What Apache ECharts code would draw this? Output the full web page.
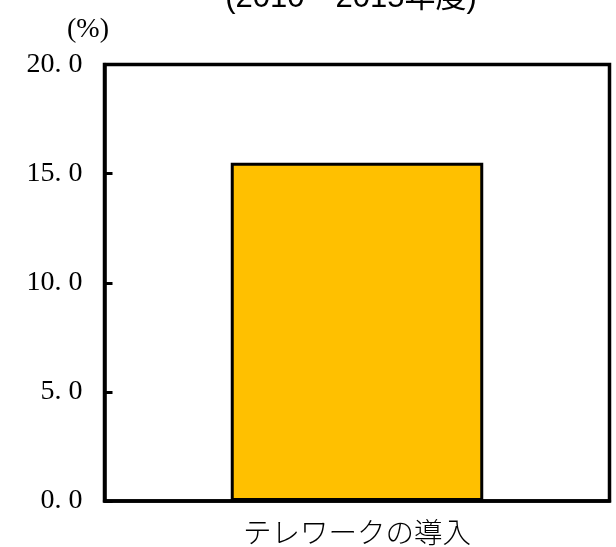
<!DOCTYPE html>
<html>
<head>
<meta charset="utf-8">
<script src="https://cdn.jsdelivr.net/npm/echarts@6/dist/echarts.min.js"></script>
<style>
  html, body { margin: 0; padding: 0; background: #fff; }
  #chart { width: 616px; height: 547px; }
</style>
</head>
<body>
<div id="chart"></div>
<script>
// Share of firms introducing telework, FY2010–2015
const categories = ['テレワークの導入'];
const rates = [15.5];
const yMin = 0, yMax = 20, yStep = 5;
const titleText = '(2010～2015年度)';
const unitText = '(%)';

const chart = echarts.init(document.getElementById('chart'), null, { renderer: 'canvas' });

chart.setOption({
  animation: false,
  backgroundColor: '#ffffff',
  grid: {
    left: 104.5, right: 6.5, top: 64.5, bottom: 46,
    show: true, borderColor: '#000', borderWidth: 3.5, backgroundColor: 'transparent'
  },
  graphic: [
    {
      type: 'text', x: 351, y: -2,
      style: {
        text: titleText,
        fontSize: 31, fontFamily: '"Liberation Sans", "Noto Sans CJK JP", sans-serif',
        fill: '#000', align: 'center', verticalAlign: 'middle'
      }
    },
    {
      type: 'text', x: 88, y: 30,
      style: {
        text: unitText,
        fontSize: 28, fontFamily: '"Liberation Serif", "DejaVu Serif", serif',
        fill: '#000', align: 'center', verticalAlign: 'middle'
      }
    }
  ],
  xAxis: {
    type: 'category',
    data: categories,
    axisLine: { show: true, lineStyle: { color: '#000', width: 3.5 } },
    axisTick: { show: false },
    axisLabel: {
      color: '#000', fontSize: 28.5, margin: 17,
      fontFamily: '"Noto Sans CJK JP", sans-serif', fontWeight: 300
    },
    splitLine: { show: false }
  },
  yAxis: {
    type: 'value',
    min: yMin, max: yMax, interval: yStep,
    axisLine: { show: true, lineStyle: { color: '#000', width: 3.5 } },
    axisTick: { show: true, inside: true, length: 8, lineStyle: { color: '#000', width: 3 } },
    axisLabel: {
      color: '#000', fontSize: 28, margin: 22,
      fontFamily: '"Liberation Serif", "DejaVu Serif", serif',
      formatter: v => v.toFixed(1).replace('.', '. ')
    },
    splitLine: { show: false }
  },
  series: [{
    type: 'bar',
    data: rates,
    barWidth: '50%',
    itemStyle: { color: '#FFC000', borderColor: '#000', borderWidth: 3 },
    label: { show: false }
  }]
});
</script>
</body>
</html>
